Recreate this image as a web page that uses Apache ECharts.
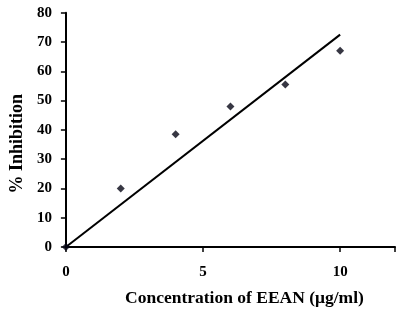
<!DOCTYPE html>
<html>
<head>
<meta charset="utf-8">
<script src="https://cdn.jsdelivr.net/npm/echarts@6/dist/echarts.min.js"></script>
<style>
  html, body { margin: 0; padding: 0; background: #fff; }
  #main { width: 400px; height: 312px; }
</style>
</head>
<body>
<div id="main"></div>
<script>
// 数据
var concentration = [0, 2, 4, 6, 8, 10];
var inhibition = [0, 20, 38.5, 48, 55.5, 67];
var trendX = [0, 10];
var trendY = [0, 72.5];

var chartDom = document.getElementById('main');
var myChart = echarts.init(chartDom);
var font = 'Liberation Serif, Times New Roman, serif';

var option = {
    backgroundColor: '#ffffff',
    animation: false,
    grid: {
        left: 63.5,
        right: 5,
        top: 12.7,
        bottom: 63
    },
    xAxis: {
        type: 'value',
        min: 0,
        max: 12,
        interval: 5,
        name: 'Concentration of EEAN (μg/ml)',
        nameLocation: 'middle',
        nameGap: 42,
        nameTextStyle: {
            fontFamily: font, fontWeight: 'bold', fontSize: 17.5, color: '#000',
            padding: [0, 0, 0, 28]
        },
        splitLine: { show: false },
        axisLine: { lineStyle: { color: '#000', width: 2 } },
        axisTick: { show: true, length: 5, lineStyle: { color: '#000', width: 1.5 } },
        axisLabel: {
            fontFamily: font, fontWeight: 'bold', fontSize: 15, color: '#000',
            margin: 18,
            formatter: function (v) { return v > 10 ? '' : v; }
        }
    },
    yAxis: {
        type: 'value',
        min: 0,
        max: 80,
        interval: 10,
        name: '% Inhibition',
        nameLocation: 'middle',
        nameGap: 36,
        nameTextStyle: {
            fontFamily: font, fontWeight: 'bold', fontSize: 18, color: '#000',
            padding: [0, 28, 0, 0]
        },
        splitLine: { show: false },
        axisLine: { show: true, lineStyle: { color: '#000', width: 2 } },
        axisTick: { show: true, length: 5, lineStyle: { color: '#000', width: 1.5 } },
        axisLabel: {
            fontFamily: font, fontWeight: 'bold', fontSize: 15, color: '#000',
            margin: 14
        }
    },
    series: [
        {
            name: 'trend',
            type: 'line',
            data: trendX.map(function (x, i) { return [x, trendY[i]]; }),
            showSymbol: false,
            lineStyle: { color: '#000', width: 2 },
            z: 2
        },
        {
            name: 'data',
            type: 'scatter',
            data: concentration.map(function (x, i) { return [x, inhibition[i]]; }),
            symbol: 'diamond',
            symbolSize: 8,
            itemStyle: { color: '#050514' },
            z: 3
        }
    ]
};
option && myChart.setOption(option);
</script>
</body>
</html>
